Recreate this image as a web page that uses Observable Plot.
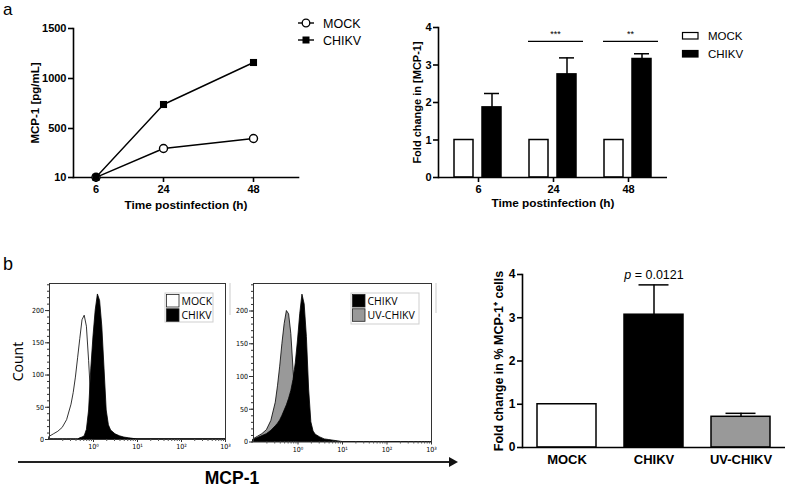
<!DOCTYPE html>
<html>
<head>
<meta charset="utf-8">
<script src="https://cdn.jsdelivr.net/npm/d3@7"></script>
<script src="https://cdn.jsdelivr.net/npm/@observablehq/plot@0.6"></script>
<style>
  html, body { margin: 0; padding: 0; background: #fff; }
  #fig { position: relative; width: 787px; height: 488px; overflow: hidden; background: #fff; }
  #fig > div { position: absolute; }
  #fig svg { display: block; max-width: none; }
</style>
</head>
<body>
<div id="fig"></div>
<script>
// ---------------- DATA ----------------
// Panel a (left): MCP-1 concentration over time
const timeHours = [6, 24, 48];
const mcp1Mock = [12, 300, 400];
const mcp1Chikv = [12, 740, 1160];
const mcp1Ticks = [10, 500, 1000, 1500];

// Panel a (right): fold change in [MCP-1]
const timeGroups = ["6", "24", "48"];
const foldMock = [1, 1, 1];
const foldChikv = [1.87, 2.75, 3.16];
const foldChikvErr = [0.37, 0.44, 0.14];
const sigGroups = ["24", "48"];
const sigLabels = ["***", "**"];
const sigLevel = [3.63, 3.63];
const foldTicks = [0, 1, 2, 3, 4];

// Panel b: flow cytometry histograms (log10 MCP-1 intensity vs count)
const histLog = [-1.0, -0.9, -0.8, -0.7, -0.6, -0.5, -0.45, -0.4, -0.35, -0.3, -0.25, -0.2, -0.15, -0.1, -0.05,
                 0.0, 0.05, 0.1, 0.15, 0.2, 0.25, 0.3, 0.35, 0.4, 0.5, 0.6, 0.7, 0.8, 0.9, 1.0, 1.5, 2.0, 2.5, 3.0];
const countMock   = [4, 8, 12, 18, 30, 54, 72, 96, 126, 156, 185, 192, 175, 122, 60,
                     25, 10, 5, 3, 2, 1, 0, 0, 0, 0, 0, 0, 0, 0, 0, 0, 0, 0, 0];
const countChikvA = [0, 0, 0, 0, 0, 0, 0, 0, 0, 2, 3, 5, 15, 45, 110,
                     160, 200, 225, 215, 175, 110, 45, 22, 14, 8, 5, 3, 2, 1, 0, 0, 0, 0, 0];
const countUv     = [4, 8, 12, 18, 32, 60, 85, 115, 150, 180, 200, 195, 165, 110, 55,
                     22, 10, 4, 2, 1, 0, 0, 0, 0, 0, 0, 0, 0, 0, 0, 0, 0, 0, 0];
const countChikvB = [3, 6, 9, 12, 17, 24, 28, 33, 40, 48, 56, 66, 78, 95, 120,
                     155, 195, 225, 210, 160, 80, 30, 16, 11, 7, 4, 3, 2, 1, 0, 0, 0, 0, 0];
const countTicks = [0, 50, 100, 150, 200];
const decadeTicks = [1, 10, 100, 1000];
const decadeLabels = ["10\u2070", "10\u00b9", "10\u00b2", "10\u00b3"];

// Panel b (right): fold change in % MCP-1+ cells
const conditions = ["MOCK", "CHIKV", "UV-CHIKV"];
const pctFold = [1.0, 3.07, 0.71];
const pctFoldErr = [0, 0.69, 0.08];
const pLabel = "p = 0.0121";

// ---------------- STYLE ----------------
const FONT = "'Liberation Sans', Arial, Helvetica, sans-serif";
const HFONT = "'Open Sans', 'Liberation Sans', sans-serif";
const NFONT = "'Liberation Sans Narrow', 'DejaVu Sans Condensed', 'Liberation Sans', sans-serif";
const fillOf = {"MOCK": "#ffffff", "CHIKV": "#000000", "UV-CHIKV": "#999999"};
const AX = 1.6;
const plain = d => String(d);

const fig = document.getElementById("fig");
function place(node, left, top) {
  const div = document.createElement("div");
  div.style.left = left + "px";
  div.style.top = top + "px";
  div.appendChild(node);
  fig.appendChild(div);
}
const baseStyle = (size, weight) => ({
  fontFamily: FONT, fontSize: size + "px", fontWeight: weight,
  color: "#000", background: "transparent", overflow: "visible"
});
const label = s => [s];
const yTitle = (s, dx, extra = {}) => Plot.text(label(s), {text: d => d, frameAnchor: "left", rotate: -90, dx,
  textAnchor: "middle", lineAnchor: "middle", ...extra});
const xTitle = (s, dy, extra = {}) => Plot.text(label(s), {text: d => d, frameAnchor: "bottom", dy,
  textAnchor: "middle", lineAnchor: "middle", ...extra});

// ---------------- PANEL a, left: line chart ----------------
const a1Mock = timeHours.map((t, i) => ({t, v: mcp1Mock[i]}));
const a1Chikv = timeHours.map((t, i) => ({t, v: mcp1Chikv[i]}));
const pA1 = Plot.plot({
  width: 300, height: 215,
  marginLeft: 73, marginRight: 2, marginTop: 28, marginBottom: 38,
  style: baseStyle(11, "bold"),
  x: {domain: [0, 60], axis: null},
  y: {domain: [10, 1500], axis: null},
  marks: [
    Plot.frame({anchor: "left", strokeWidth: AX}),
    Plot.frame({anchor: "bottom", strokeWidth: AX}),
    Plot.axisY({ticks: mcp1Ticks, tickFormat: plain, tickSize: 5, tickPadding: 2, strokeWidth: AX, label: null}),
    Plot.axisX({ticks: timeHours, tickFormat: plain, tickSize: 5, tickPadding: 3, strokeWidth: AX, label: null}),
    Plot.line(a1Mock, {x: "t", y: "v", strokeWidth: 1.4}),
    Plot.line(a1Chikv, {x: "t", y: "v", strokeWidth: 1.4}),
    Plot.dot(a1Mock, {x: "t", y: "v", r: 4, fill: "white", stroke: "black", strokeWidth: 1.4}),
    Plot.dot(a1Chikv, {x: "t", y: "v", r: 4, symbol: "square", fill: "black"}),
    yTitle("MCP-1 [pg/mL]", -38, {fontSize: 11.5}),
    xTitle("Time postinfection (h)", 28, {fontSize: 11.8})
  ]
});
place(pA1, 0, 0);

// ---------------- PANEL a, right: grouped bars ----------------
const a2Dims = {width: 290, height: 215, marginLeft: 58, marginRight: 3, marginTop: 27, marginBottom: 38};
const barRows = timeGroups.flatMap((g, i) => [
  {g, s: "MOCK", v: foldMock[i], e: 0},
  {g, s: "CHIKV", v: foldChikv[i], e: foldChikvErr[i]}
]);
const errRows = barRows.filter(d => d.e > 0);
const sigRows = sigGroups.map((g, i) => ({g, label: sigLabels[i], y: sigLevel[i]}));

const pA2bars = Plot.plot({
  ...a2Dims,
  style: baseStyle(11, "bold"),
  fx: {domain: timeGroups, paddingInner: 0.2, paddingOuter: 0.117, axis: null, label: null},
  x: {domain: ["MOCK", "CHIKV"], paddingInner: 0.316, paddingOuter: 0.218, axis: null},
  y: {domain: [0, 4], axis: null},
  marks: [
    Plot.barY(barRows, {fx: "g", x: "s", y: "v", fill: d => fillOf[d.s], stroke: "#000", strokeWidth: 1.5}),
    Plot.ruleX(errRows, {fx: "g", x: "s", y1: "v", y2: d => d.v + d.e, strokeWidth: 1.5}),
    Plot.tickY(errRows, {fx: "g", x: "s", y: d => d.v + d.e, strokeWidth: 1.5, insetLeft: 2, insetRight: 2}),
    Plot.ruleY(sigRows, {fx: "g", y: "y", strokeWidth: 1.2, insetLeft: 5}),
    Plot.text(sigRows, {fx: "g", y: "y", text: "label", dy: -7, dx: 2, fontWeight: "normal", fontSize: 9}),
    Plot.axisFx({anchor: "bottom", tickSize: 5, tickPadding: 3, strokeWidth: AX, label: null})
  ]
});
const pA2axes = Plot.plot({
  ...a2Dims,
  style: baseStyle(11, "bold"),
  y: {domain: [0, 4], axis: null},
  marks: [
    Plot.frame({anchor: "left", strokeWidth: AX}),
    Plot.ruleY([0], {strokeWidth: AX}),
    Plot.axisY({ticks: foldTicks, tickFormat: plain, tickSize: 5, tickPadding: 2, strokeWidth: AX, label: null}),
    yTitle("Fold change in [MCP-1]", -21),
    xTitle("Time postinfection (h)", 26, {fontSize: 11.8})
  ]
});
place(pA2bars, 380, 0);
place(pA2axes, 380, 0);

// ---------------- PANEL b: histograms ----------------
const histRows = counts => histLog.map((lg, i) => ({x: Math.pow(10, lg), c: counts[i]}));
const countMinor = d3.range(0, 241, 10);
const decadeMinor = d3.range(-1, 3).flatMap(k => d3.range(2, 10).map(m => m * Math.pow(10, k)));

function histPlot({width, marginLeft, marginRight, marginBottom, layers, yLabel}) {
  return Plot.plot({
    width, height: 190, marginLeft, marginRight, marginTop: 13, marginBottom,
    style: {fontFamily: NFONT, fontSize: "7px", color: "#000", background: "transparent", overflow: "visible"},
    x: {type: "log", domain: [0.1, 1000], axis: null},
    y: {domain: [0, 242], axis: null},
    marks: [
      ...layers.map(l => Plot.areaY(histRows(l.counts), {x: "x", y: "c", fill: l.fill, stroke: "#000", strokeWidth: 0.8})),
      Plot.frame({stroke: "#333", strokeWidth: 1}),
      Plot.axisY({ticks: countTicks, tickFormat: plain, tickSize: 4, tickPadding: 1.5, label: null, stroke: "#333"}),
      Plot.axisY({ticks: countMinor, tickSize: 2, tickFormat: () => "", label: null, stroke: "#333"}),
      Plot.axisX({ticks: decadeTicks, tickSize: 3, tickPadding: 2, label: null, stroke: "#333",
                  tickFormat: d => decadeLabels[decadeTicks.indexOf(d)]}),
      Plot.axisX({ticks: decadeMinor, tickSize: 2, tickFormat: () => "", label: null, stroke: "#555"}),
      ...(yLabel ? [yTitle(yLabel, -31, {fontFamily: HFONT, fontSize: 14})] : [])
    ]
  });
}
place(histPlot({width: 232, marginLeft: 49, marginRight: 7, marginBottom: 21, yLabel: "Count",
  layers: [{counts: countMock, fill: "#ffffff"}, {counts: countChikvA, fill: "#000000"}]}), 0, 270);
place(histPlot({width: 208, marginLeft: 21, marginRight: 9, marginBottom: 18.5,
  layers: [{counts: countUv, fill: "#999999"}, {counts: countChikvB, fill: "#000000"}]}), 232, 270);

// ---------------- PANEL b, right: bars ----------------
const pctRows = conditions.map((c, i) => ({c, v: pctFold[i], e: pctFoldErr[i]}));
const pctErr = pctRows.filter(d => d.e > 0);
const pTextRows = pctRows.filter(d => d.c === "CHIKV").map(d => ({...d, t: pLabel}));
const yTitleB = "Fold change in % MCP-1\u207a cells";
const pB = Plot.plot({
  width: 317, height: 240, marginLeft: 52, marginRight: 2, marginTop: 34, marginBottom: 33,
  style: baseStyle(12, "bold"),
  x: {domain: conditions, paddingInner: 0.326, paddingOuter: 0.166, axis: null},
  y: {domain: [0, 4], axis: null},
  marks: [
    Plot.barY(pctRows, {x: "c", y: "v", fill: d => fillOf[d.c], stroke: "#000", strokeWidth: 1.5}),
    Plot.ruleX(pctErr, {x: "c", y1: "v", y2: d => d.v + d.e, strokeWidth: 1.5}),
    Plot.tickY(pctErr, {x: "c", y: d => d.v + d.e, strokeWidth: 1.5, insetLeft: 14.5, insetRight: 14.5}),
    Plot.frame({anchor: "left", strokeWidth: AX}),
    Plot.ruleY([0], {strokeWidth: AX}),
    Plot.axisY({ticks: foldTicks, tickFormat: plain, tickSize: 5, tickPadding: 2, strokeWidth: AX, label: null}),
    Plot.axisX({tickSize: 0, tickPadding: 7, fontSize: 13, label: null}),
    Plot.text(pTextRows, {x: "c", y: d => d.v + d.e, text: "t", dy: -10, fontWeight: "normal", fontSize: 12.5}),
    yTitle(yTitleB, -24, {fontSize: 12.5})
  ]
});
// italic "p"
d3.select(pB).selectAll("text").filter(function() { return this.textContent === pLabel; }).each(function() {
  const t = d3.select(this);
  t.text(null);
  t.append("tspan").attr("font-style", "italic").text(pLabel.slice(0, 1));
  t.append("tspan").text(pLabel.slice(1));
});
place(pB, 470, 240);

// ---------------- annotations: panel letters, legends, arrow ----------------
const ann = d3.create("svg").attr("width", 787).attr("height", 488)
  .style("position", "absolute").style("left", "0px").style("top", "0px")
  .attr("font-family", FONT);
ann.append("text").attr("x", 3).attr("y", 15).attr("font-size", 17).text("a");
ann.append("text").attr("x", 3).attr("y", 270).attr("font-size", 18).text("b");

// line-chart legend
const lg1 = [{name: "MOCK", y: 23, sym: "circle"}, {name: "CHIKV", y: 40, sym: "square"}];
lg1.forEach(d => {
  ann.append("line").attr("x1", 298).attr("x2", 314).attr("y1", d.y).attr("y2", d.y)
    .attr("stroke", "#000").attr("stroke-width", 1.4);
  if (d.sym === "circle")
    ann.append("circle").attr("cx", 306).attr("cy", d.y).attr("r", 3.8)
      .attr("fill", "#fff").attr("stroke", "#000").attr("stroke-width", 1.3);
  else
    ann.append("rect").attr("x", 302.5).attr("y", d.y - 3.5).attr("width", 7).attr("height", 7).attr("fill", "#000");
  ann.append("text").attr("x", 323).attr("y", d.y + 4.5).attr("font-size", 12.5).text(d.name);
});

// bar-chart legend (panel a)
[{name: "MOCK", y: 32}, {name: "CHIKV", y: 50}].forEach(d => {
  ann.append("rect").attr("x", 682.5).attr("y", d.y + 0.5).attr("width", 15.5).attr("height", 6.5)
    .attr("fill", fillOf[d.name]).attr("stroke", "#000").attr("stroke-width", 1.2);
  ann.append("text").attr("x", 708).attr("y", d.y + 7.8).attr("font-size", 11.5).text(d.name);
});

// histogram legends
function histLegend(x, y, w, h, items) {
  ann.append("rect").attr("x", x).attr("y", y).attr("width", w).attr("height", h)
    .attr("fill", "#fff").attr("stroke", "#cfcfcf").attr("stroke-width", 1);
  items.forEach((it, i) => {
    ann.append("rect").attr("x", x + 1.5).attr("y", y + 1.5 + i * 14.3).attr("width", 12.5).attr("height", 12.5)
      .attr("fill", fillOf[it]).attr("stroke", "#222").attr("stroke-width", 0.8);
    ann.append("text").attr("x", x + 16.5).attr("y", y + 11.8 + i * 14.3)
      .attr("font-family", HFONT).attr("font-size", 10.5).text(it);
  });
}
histLegend(165, 293, 48, 29, ["MOCK", "CHIKV"]);
histLegend(351, 293, 68, 31, ["CHIKV", "UV-CHIKV"]);

// faint scan edges
[[230, 283, 315], [436, 283, 313]].forEach(([x, y1, y2]) =>
  ann.append("line").attr("x1", x).attr("x2", x).attr("y1", y1).attr("y2", y2)
    .attr("stroke", "#dcdcdc").attr("stroke-width", 1.5));

// MCP-1 arrow and label
ann.append("line").attr("x1", 18).attr("x2", 450).attr("y1", 462).attr("y2", 462)
  .attr("stroke", "#222").attr("stroke-width", 2);
ann.append("path").attr("d", "M449,457 L458,462 L449,467 Z").attr("fill", "#111");
ann.append("text").attr("x", 232).attr("y", 484).attr("text-anchor", "middle")
  .attr("font-size", 17.5).attr("font-weight", "bold").text("MCP-1");

fig.appendChild(ann.node());
</script>
</body>
</html>
